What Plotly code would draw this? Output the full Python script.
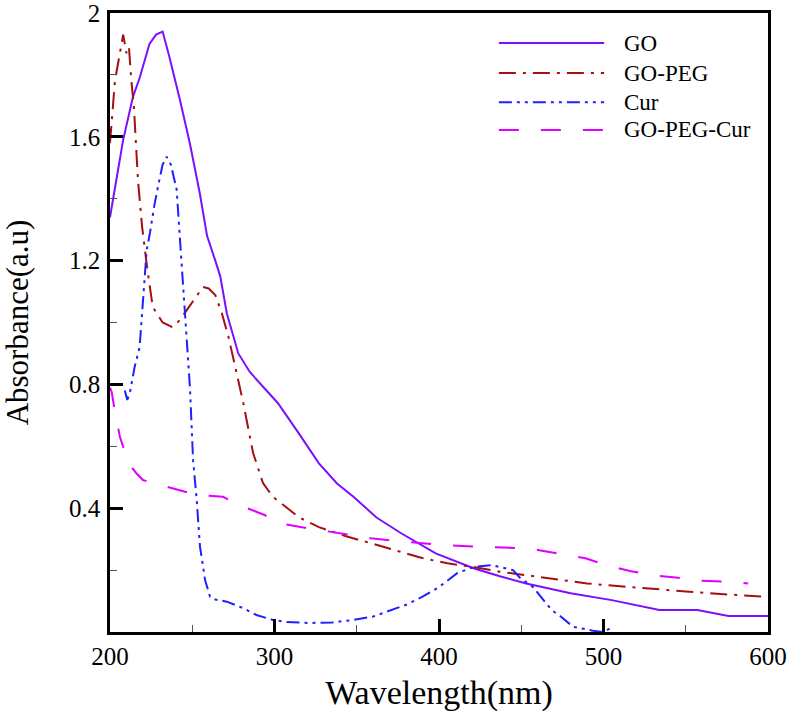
import plotly.graph_objects as go

# ---------------- data ----------------
series_names = ["GO", "GO-PEG", "Cur", "GO-PEG-Cur"]

go_wl = [200, 204, 208, 214, 218, 224, 228, 232, 236, 242.5, 248.5, 254.5, 259, 264, 267,
         271, 275, 278, 285, 292, 302, 315, 327, 338, 348, 362, 377, 398, 421, 437, 453,
         480, 505, 534, 557, 576, 600]
go_abs = [1.34, 1.46, 1.59, 1.73, 1.79, 1.90, 1.93, 1.94, 1.86, 1.72, 1.58, 1.42, 1.28, 1.20, 1.15,
          1.03, 0.96, 0.90, 0.84, 0.80, 0.74, 0.64, 0.545, 0.48, 0.437, 0.37, 0.319, 0.254, 0.206, 0.18, 0.157,
          0.125, 0.103, 0.071, 0.071, 0.052, 0.052]

gopeg_wl = [200, 203, 206, 208, 210, 211.5, 213, 214.5, 217, 219.5, 222.5, 226, 232, 238, 242.5,
            246.6, 250.5, 256.5, 260, 264, 268, 272, 277, 281, 287, 293, 299, 304, 315, 327, 343,
            358.5, 374, 389.7, 405, 421, 437, 453, 470, 490, 510, 530, 550, 571, 600]
gopeg_abs = [1.58, 1.78, 1.87, 1.93, 1.87, 1.89, 1.78, 1.70, 1.46, 1.31, 1.18, 1.05, 1.00, 0.985, 1.008,
             1.04, 1.07, 1.115, 1.11, 1.089, 1.03, 0.954, 0.836, 0.74, 0.578, 0.481, 0.437, 0.417, 0.37, 0.339, 0.31,
             0.287, 0.262, 0.239, 0.222, 0.21, 0.195, 0.184, 0.17, 0.157, 0.148, 0.139, 0.131, 0.123, 0.113]

cur_wl = [209, 210.5, 212, 215, 218, 220, 222.3, 224.3, 227, 230, 232, 234.4, 237, 240.5, 243.6, 246.6, 248.6,
          250.5, 252.7, 254.7, 257.8, 260.8, 264, 271, 281, 289, 299, 306, 320, 335, 348, 360,
          369, 380, 390, 400, 411, 421, 432, 445, 449, 457, 468.5, 474, 481.5, 493.6, 500, 505]
cur_abs = [0.78, 0.75, 0.77, 0.857, 0.92, 1.06, 1.234, 1.29, 1.38, 1.46, 1.51, 1.536, 1.51, 1.43, 1.18, 0.92, 0.79,
           0.556, 0.427, 0.276, 0.168, 0.114, 0.105, 0.098, 0.077, 0.055, 0.039, 0.033, 0.029, 0.031, 0.039, 0.05,
           0.066, 0.088, 0.114, 0.145, 0.19, 0.21, 0.216, 0.20, 0.176, 0.146, 0.071, 0.05, 0.017, 0.004, 0.0, 0.015]

gopegcur_wl = [200, 201, 203, 206, 209, 212, 216, 220, 227, 241, 252.7, 260, 268.7, 275, 281, 294,
               303, 315, 327, 343, 358.5, 374, 389.7, 405, 421, 437, 453, 460, 474.5, 489, 502, 516,
               529, 544, 556.6, 573, 588]
gopegcur_abs = [0.79, 0.776, 0.712, 0.631, 0.583, 0.54, 0.513, 0.491, 0.48, 0.459, 0.443, 0.44, 0.437, 0.42, 0.405, 0.378,
                0.351, 0.34, 0.33, 0.315, 0.303, 0.294, 0.287, 0.28, 0.276, 0.273, 0.27, 0.265, 0.251, 0.238, 0.216, 0.197,
                0.184, 0.176, 0.166, 0.163, 0.157]

x_tickvals = [200, 300, 400, 500, 600]
x_minor = [250, 350, 450, 550]
y_tickvals = [0.4, 0.8, 1.2, 1.6, 2.0]
y_ticktext = ["0.4", "0.8", "1.2", "1.6", "2"]
y_minor = [0.2, 0.6, 1.0, 1.4, 1.8]

# ---------------- styles ----------------
colors = ["#7b10ff", "#a50f0f", "#1f1fff", "#e000ff"]
dashes = ["solid", "17px,7px,3px,7px", "13px,5px,3px,5px,3px,5px", "20px,22px"]
FONT = "Liberation Serif, Times New Roman, serif"

xs = [go_wl, gopeg_wl, cur_wl, gopegcur_wl]
ys = [go_abs, gopeg_abs, cur_abs, gopegcur_abs]

fig = go.Figure()
for name, x, y, c, d in zip(series_names, xs, ys, colors, dashes):
    fig.add_trace(go.Scatter(x=x, y=y, mode="lines", name=name, showlegend=False,
                             line=dict(color=c, width=2, dash=d)))

# custom legend (long line samples as in the reference)
leg_y = [0.9515, 0.903, 0.856, 0.811]
for name, c, d, yy in zip(series_names, colors, dashes, leg_y):
    fig.add_shape(type="line", xref="paper", yref="paper", x0=0.591, x1=0.751, y0=yy, y1=yy,
                  line=dict(color=c, width=2, dash=d))
    fig.add_annotation(xref="paper", yref="paper", x=0.778, y=yy, text=name, showarrow=False,
                       xanchor="left", yanchor="middle", font=dict(family=FONT, size=23, color="black"))

fig.update_layout(
    width=791, height=716,
    margin=dict(l=110, r=23, t=13, b=84, autoexpand=False),
    paper_bgcolor="white", plot_bgcolor="white",
    font=dict(family=FONT, color="black"),
)
fig.update_xaxes(
    range=[200, 600], showgrid=False, zeroline=False, automargin=False,
    showline=True, linecolor="black", linewidth=2.5, mirror=True,
    tickvals=x_tickvals, ticks="inside", ticklen=13, tickwidth=2.5, tickcolor="black",
    tickfont=dict(family=FONT, size=25), ticklabelstandoff=0, ticklabeloverflow="allow",
    minor=dict(tickvals=x_minor, ticks="inside", ticklen=7, tickwidth=1, tickcolor="#555"),
    title=dict(text="Wavelength(nm)", font=dict(family=FONT, size=34), standoff=12),
)
fig.update_yaxes(
    range=[0, 2.0], showgrid=False, zeroline=False, automargin=False,
    showline=True, linecolor="black", linewidth=2.5, mirror=True,
    tickvals=y_tickvals, ticktext=y_ticktext, ticks="inside", ticklen=13, tickwidth=2.5, tickcolor="black",
    tickfont=dict(family=FONT, size=25), ticklabelstandoff=2, ticklabeloverflow="allow",
    minor=dict(tickvals=y_minor, ticks="inside", ticklen=7, tickwidth=1, tickcolor="#555"),
    title=dict(text="Absorbance(a.u)", font=dict(family=FONT, size=31), standoff=33),
)

fig.write_html("out.html", config={"displayModeBar": False},
               post_script="document.body.style.margin='0px';")
